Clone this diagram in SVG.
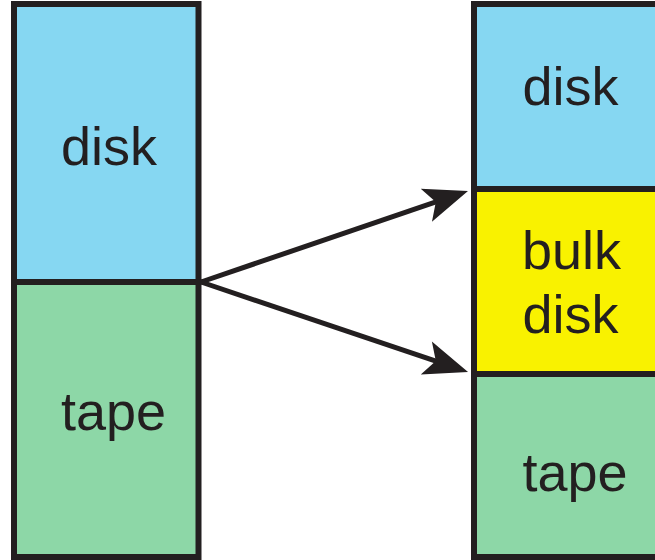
<svg xmlns="http://www.w3.org/2000/svg" width="655" height="560" viewBox="0 0 655 560">
<style>
.box{stroke:#231f20;stroke-width:6}
.disk{fill:#86d7f2}
.tape{fill:#8dd7a7}
.bulk{fill:#f9f200}
.lbl{font-family:"Liberation Sans",Arial,sans-serif;font-size:54px;fill:#231f20;text-anchor:middle}
.conn{stroke:#231f20;stroke-width:5;fill:none}
</style>
<defs>
<marker id="head" markerUnits="userSpaceOnUse" markerWidth="60" markerHeight="40" refX="20" refY="20" orient="auto" overflow="visible">
<path d="M50,20 L6,2.6 L16,20 L6,37.4 Z" fill="#231f20"/>
</marker>
</defs>
<rect width="655" height="560" fill="#ffffff"/>
<g id="left-disk">
<rect class="box disk" x="14" y="4" width="184.5" height="278"/>
<text class="lbl" x="109" y="165">disk</text>
</g>
<g id="left-tape">
<rect class="box tape" x="14" y="282" width="184.5" height="275"/>
<text class="lbl" x="113.5" y="430">tape</text>
</g>
<g id="right-disk">
<rect class="box disk" x="474" y="4" width="240" height="185"/>
<text class="lbl" x="570.5" y="105">disk</text>
</g>
<g id="right-bulk">
<rect class="box bulk" x="474" y="189" width="240" height="185"/>
<text class="lbl" x="571.5" y="269">bulk</text>
<text class="lbl" x="570.5" y="333">disk</text>
</g>
<g id="right-tape">
<rect class="box tape" x="474" y="374" width="240" height="183"/>
<text class="lbl" x="575" y="491">tape</text>
</g>
<g id="connectors">
<line class="conn" x1="201" y1="282" x2="439.6" y2="200.7" marker-end="url(#head)"/>
<line class="conn" x1="201" y1="282" x2="439.6" y2="362.4" marker-end="url(#head)"/>
</g>
</svg>
